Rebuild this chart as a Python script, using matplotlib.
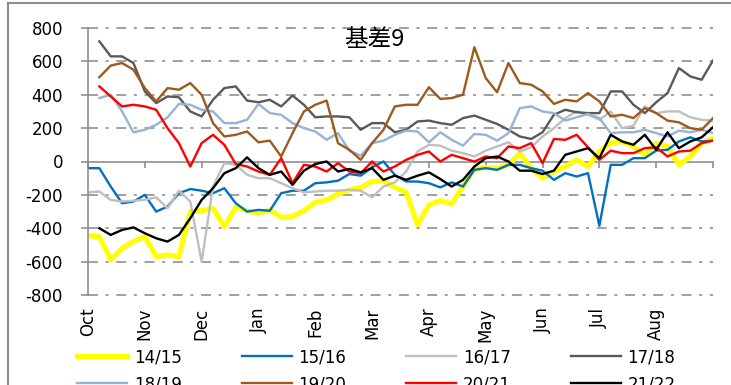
import numpy as np
import matplotlib.pyplot as plt
from matplotlib.lines import Line2D

plt.switch_backend('Agg')

plt.rcParams['font.family'] = ['DejaVu Sans', 'Noto Sans CJK SC']
plt.rcParams['axes.unicode_minus'] = False

nan = np.nan

# 横轴: 从10月初开始, 每0.2个月一个点
x_month = np.arange(56) * 0.2
months = ['Oct', 'Nov', 'Dec', 'Jan', 'Feb', 'Mar', 'Apr', 'May', 'Jun', 'Jul', 'Aug']

s1415 = [-445, -450, -590, -520, -480, -450, -570, -560, -570, -300,
         -295, -280, -390, -275, -295, -310, -290, -335, -330, -295,
         -245, -230, -195, -170, -155, -120, -115, -155, -185, -380,
         -260, -235, -255, -150, -45, -35, -40, -20, 50, -40,
         -100, -60, -30, 10, -30, 60, 110, 120, 90, 40,
         110, 90, -20, 30, 110, 140]
s1516 = [-40, -40, -150, -250, -240, -200, -300, -270, -190, -165,
         -175, -190, -160, -250, -300, -290, -295, -190, -175, -175,
         -130, -125, -115, -75, -85, -35, 0, -80, -120, -120,
         -130, -155, -125, -150, -50, -40, -50, -20, -20, -40,
         -55, -110, -70, -90, -70, -385, -20, -20, 20, 20,
         65, 70, 120, 145, 120, 125]
s1617 = [-185, -180, -230, -240, -235, -230, -215, -280, -175, -240,
         -600, -150, -10, -20, -80, -100, -100, -130, -160, -185,
         -180, -175, -175, -170, -175, -215, -150, -125, -60, 60,
         100, 95, 65, 50, 30, 65, 90, 115, 60, 85,
         150, 200, 260, 300, 280, 250, 300, 200, 215, 330,
         290, 300, 300, 265, 250, 245]
s1718 = [nan, 720, 630, 630, 590, 420, 350, 390, 385, 300,
         270, 370, 440, 450, 365, 355, 370, 330, 395, 340,
         265, 270, 270, 265, 190, 230, 230, 175, 190, 240,
         245, 230, 220, 260, 275, 250, 225, 190, 150, 135,
         175, 280, 310, 295, 290, 290, 420, 420, 340, 290,
         355, 410, 560, 510, 490, 605]
s1819 = [nan, 380, 400, 300, 175, 190, 220, 265, 345, 340,
         310, 300, 230, 230, 250, 345, 290, 280, 230, 200,
         180, 130, 170, 65, 35, 110, 125, 160, 185, 180,
         115, 175, 130, 95, 165, 160, 125, 170, 320, 330,
         300, 290, 245, 265, 285, 260, 170, 175, 175, 190,
         170, 150, 185, 175, 190, 170]
s1920 = [nan, 505, 575, 590, 550, 440, 360, 440, 430, 470,
         400, 230, 150, 160, 180, 115, 125, 30, 170, 300,
         340, 365, 110, 70, 10, 110, 190, 330, 340, 340,
         445, 375, 380, 400, 685, 500, 415, 590, 470, 460,
         420, 345, 370, 360, 410, 360, 270, 280, 260, 320,
         290, 245, 235, 200, 190, 260]
s2021 = [nan, 450, 390, 330, 340, 330, 310, 200, 110, -30,
         110, 160, 100, -15, -30, -60, -80, 20, -130, -20,
         -30, -60, -10, -60, -70, 0, -60, -30, 10, 40,
         60, 0, 40, 20, 0, 30, 20, 90, 80, 110,
         -10, 135, 130, 160, 85, 10, 65, 50, 50, 80,
         85, 30, 60, 65, 110, 125]
s2122 = [nan, -400, -440, -410, -395, -430, -460, -480, -440, -340,
         -230, -160, -70, -40, 25, -40, -80, -60, -140, -55,
         -15, 0, -60, -45, -65, -40, -110, -85, -110, -85,
         -65, -105, -150, -110, -30, 20, 30, 0, -55, -55,
         -75, -55, 40, 60, 80, 20, 160, 120, 100, 160,
         70, 175, 80, 120, 145, 205]

names = ['14/15', '15/16', '16/17', '17/18', '18/19', '19/20', '20/21', '21/22']
series = [s1415, s1516, s1617, s1718, s1819, s1920, s2021, s2122]
colors = ['#FFFF00', '#0070C0', '#BFBFBF', '#595959',
          '#95B3D7', '#9E5A1E', '#FF0000', '#000000']
widths = [3.6, 1.7, 1.7, 1.7, 1.7, 1.7, 1.7, 1.7]

fig = plt.figure(figsize=(7.31, 3.85), dpi=100)
ax = fig.add_axes([88 / 731, 1 - 295 / 385, 625 / 731, 267 / 385])

handles = []
for name, vals, c, w in zip(names, series, colors, widths):
    line, = ax.plot(x_month, vals, color=c, lw=w, label=name, zorder=2)
    handles.append(line)

grid_color = '#868686'
yticks = list(range(-800, 801, 200))
for v in yticks:
    if v != 0:
        ax.axhline(v, color=grid_color, lw=1.1, linestyle=(0, (6.5, 5, 2, 5)),
                   clip_on=False, zorder=1)

ax.set_xlim(0, 11)
ax.set_ylim(-800, 800)
ax.set_yticks(yticks)
ax.set_xticks(range(12))

for side in ['top', 'right']:
    ax.spines[side].set_visible(False)
ax.spines['left'].set_color(grid_color)
ax.spines['left'].set_linewidth(1.1)
ax.spines['bottom'].set_position(('data', 0))
ax.spines['bottom'].set_color(grid_color)
ax.spines['bottom'].set_linewidth(1.1)
ax.spines['bottom'].set_zorder(1.6)

ax.tick_params(axis='x', direction='out', length=4, color=grid_color,
               width=1.1, labelbottom=False)
ax.tick_params(axis='y', direction='out', length=5, color=grid_color,
               width=1.1, pad=13, labelsize=12)

# 月份标签放在图底部
sec = ax.secondary_xaxis('bottom')
sec.set_xticks(range(len(months)), months)
sec.tick_params(length=0, pad=9, labelsize=12, rotation=90)
sec.spines['bottom'].set_visible(False)

fig.text(374 / 731, 1 - 40 / 385, '基差9', fontsize=17, ha='center', va='center',
         family=['Noto Sans CJK SC', 'DejaVu Sans'])

# 图例按行排列
order = [0, 4, 1, 5, 2, 6, 3, 7]
fig.legend([handles[i] for i in order], [names[i] for i in order],
           ncol=4, loc='upper left', bbox_to_anchor=(77 / 731, 1 - 348 / 385),
           frameon=False, fontsize=12, handlelength=3.0, handletextpad=0.4,
           columnspacing=3.6, labelspacing=0.55, borderpad=0, borderaxespad=0)

# 外框
frame_c = '#8C8C8C'
fig.add_artist(Line2D([8 / 731, 8 / 731], [0, 1 - 3 / 385],
                      transform=fig.transFigure, color=frame_c, lw=1.5))
fig.add_artist(Line2D([8 / 731, 1], [1 - 3 / 385, 1 - 3 / 385],
                      transform=fig.transFigure, color=frame_c, lw=1.5))

fig.savefig('out.png', dpi=100)
